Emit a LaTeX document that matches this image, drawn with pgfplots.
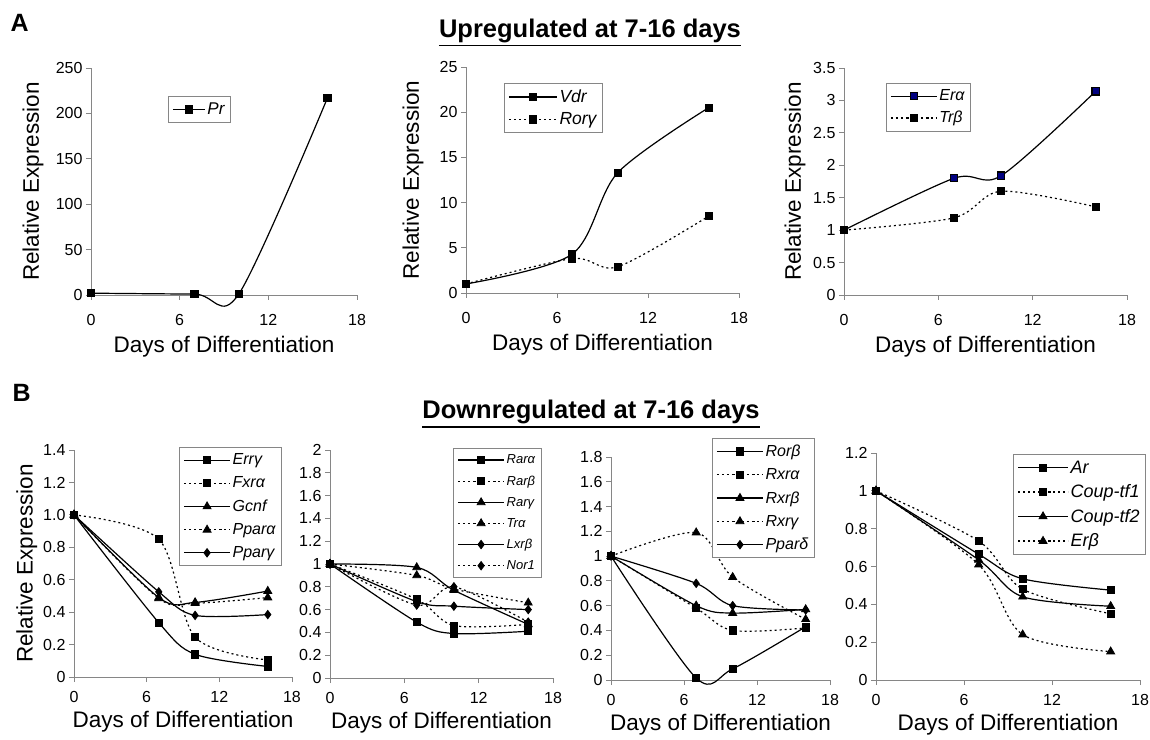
\documentclass[border=0pt]{standalone}
\usepackage{pgfplots}
\pgfplotsset{compat=1.18}
\usepackage{fontspec}
\setmainfont{Liberation Sans}
\definecolor{axgray}{RGB}{134,134,134}
\definecolor{navyfill}{RGB}{0,0,128}
\pgfplotsset{
  base/.style={scale only axis, anchor=south west, clip=false,
    axis x line*=bottom, axis y line*=left,
    axis line style={draw=axgray, line width=0.9pt},
    xmin=0, xmax=18, xtick={0,6,12,18},
    tick style={draw=axgray, line width=0.9pt}, tick align=outside, major tick length=5pt,
    /pgf/number format/assume math mode=true,
    ticklabel style={font=\fontsize{16}{19}\selectfont},
    label style={font=\fontsize{22.5}{26}\selectfont},
    xlabel={Days of Differentiation},
    legend cell align=left,
    legend style={draw=axgray, line width=0.8pt, fill=white, anchor=north west,
      font=\fontsize{16}{19}\selectfont\itshape, row sep=6.5pt, inner xsep=4pt, inner ysep=4.5pt},
    legend image code/.code={\draw[mark repeat=2,mark phase=2,#1] plot coordinates {(0pt,0pt) (23pt,0pt) (46pt,0pt)};},
  },
  rowA/.style={xticklabel style={yshift=-11pt}},
  rowB/.style={xticklabel style={yshift=-6pt}},
  sline/.style={black, line width=1.2pt, smooth, tension=0.5, mark options={solid, fill=black, line width=0.8pt}},
  dline/.style={black, line width=1.2pt, smooth, tension=0.5, dash pattern=on 2pt off 3pt, mark options={solid, fill=black, line width=0.8pt}},
  msq/.style={mark=square*, mark size=3.6pt},
  mtri/.style={mark=triangle*, mark size=4.6pt},
  mdia/.style={mark=diamond*, mark size=4.2pt},
}
\begin{document}
\begin{tikzpicture}[x=1pt,y=1pt]
% titles
\node[anchor=base west, font=\fontsize{25}{30}\selectfont\bfseries] at (7,707) {A};
\node[anchor=base west, font=\fontsize{25}{30}\selectfont\bfseries] at (9,337) {B};
\node[anchor=base, inner sep=0pt, font=\fontsize{25.5}{30}\selectfont\bfseries] (t1) at (590,701) {Upregulated at 7-16 days};
\draw[line width=1.8pt] ([yshift=-2pt]t1.south west) -- ([yshift=-2pt]t1.south east);
\node[anchor=base, inner sep=0pt, font=\fontsize{25.5}{30}\selectfont\bfseries] (t2) at (591,320) {Downregulated at 7-16 days};
\draw[line width=1.8pt] ([yshift=-2pt]t2.south west) -- ([yshift=-2pt]t2.south east);

% ---------- A1
\begin{axis}[base, rowA, at={(91pt,444pt)}, width=266pt, height=227pt,
  ymin=0, ymax=250, ytick={0,50,100,150,200,250},
  ylabel={Relative Expression},
  xlabel style={at={(axis description cs:0.5,-0.229)}, anchor=center},
  ylabel style={at={(axis description cs:-0.218,0.5)}, anchor=center},
  legend style={at={(0.289,0.877)}, font=\fontsize{17}{20}\selectfont\itshape},
  legend image code/.code={\draw[mark repeat=2,mark phase=2,#1] plot coordinates {(0pt,0pt) (16pt,0pt) (32pt,0pt)};}]
\addplot[sline, msq] coordinates {(0,2) (7,1) (10,1) (16,217)};
\addlegendentry{Pr}
\end{axis}

% ---------- A2
\begin{axis}[base, rowA, at={(466pt,446pt)}, width=273pt, height=226pt,
  ymin=0, ymax=25, ytick={0,5,10,15,20,25},
  ylabel={Relative Expression},
  xlabel style={at={(axis description cs:0.5,-0.23)}, anchor=center},
  ylabel style={at={(axis description cs:-0.194,0.5)}, anchor=center},
  legend style={at={(0.139,0.929)}, font=\fontsize{17.5}{20}\selectfont\itshape, row sep=4.5pt},
  legend image code/.code={\draw[mark repeat=2,mark phase=2,#1] plot coordinates {(0pt,0pt) (24pt,0pt) (48pt,0pt)};}]
\addplot[sline, msq] coordinates {(0,1) (7,4.3) (10,13.3) (16,20.5)};
\addlegendentry{Vdr}
\addplot[dline, msq] coordinates {(0,1) (7,3.8) (10,2.9) (16,8.5)};
\addlegendentry{Rorγ}
\end{axis}

% ---------- A3
\begin{axis}[base, rowA, at={(844pt,444pt)}, width=283pt, height=227pt,
  ymin=0, ymax=3.5, ytick={0,0.5,1,1.5,2,2.5,3,3.5},
  ylabel={Relative Expression},
  xlabel style={at={(axis description cs:0.5,-0.229)}, anchor=center},
  ylabel style={at={(axis description cs:-0.173,0.5)}, anchor=center},
  legend style={at={(0.148,0.934)}, row sep=5pt}]
\addplot[sline, msq, mark options={solid, fill=navyfill, draw=black}] coordinates {(0,1) (7,1.8) (10,1.84) (16,3.14)};
\addlegendentry{Erα}
\addplot[dline, msq] coordinates {(0,1) (7,1.19) (10,1.6) (16,1.36)};
\addlegendentry{Trβ}
\end{axis}

% ---------- B1
\begin{axis}[base, rowB, at={(74pt,62pt)}, width=218pt, height=227pt,
  ymin=0, ymax=1.4, ytick={0,0.2,0.4,0.6,0.8,1,1.2,1.4},
  yticklabels={0,0.2,0.4,0.6,0.8,1.0,1.2,1.4},
  ylabel={Relative Expression},
  xlabel style={at={(axis description cs:0.5,-0.198)}, anchor=center},
  ylabel style={at={(axis description cs:-0.216,0.5)}, anchor=center},
  legend style={at={(0.482,1.013)}}]
\addplot[sline, msq] coordinates {(0,1) (7,0.335) (10,0.14) (16,0.065)};
\addlegendentry{Errγ}
\addplot[dline, msq] coordinates {(0,1) (7,0.85) (10,0.245) (16,0.105)};
\addlegendentry{Fxrα}
\addplot[sline, mtri] coordinates {(0,1) (7,0.49) (10,0.46) (16,0.53)};
\addlegendentry{Gcnf}
\addplot[dline, mtri] coordinates {(0,1) (7,0.485) (10,0.455) (16,0.49)};
\addlegendentry{Pparα}
\addplot[sline, mdia] coordinates {(0,1) (7,0.525) (10,0.38) (16,0.385)};
\addlegendentry{Pparγ}
\end{axis}

% ---------- B2
\begin{axis}[base, rowB, at={(330pt,61pt)}, width=223pt, height=228pt,
  ymin=0, ymax=2, ytick={0,0.2,0.4,0.6,0.8,1,1.2,1.4,1.6,1.8,2},
  xlabel style={at={(axis description cs:0.5,-0.197)}, anchor=center},
  legend style={at={(0.552,1.009)}, font=\fontsize{13}{15}\selectfont\itshape, row sep=6.5pt}]
\addplot[sline, msq] coordinates {(0,1) (7,0.49) (10,0.39) (16,0.41)};
\addlegendentry{Rarα}
\addplot[dline, msq] coordinates {(0,1) (7,0.69) (10,0.46) (16,0.47)};
\addlegendentry{Rarβ}
\addplot[sline, mtri] coordinates {(0,1) (7,0.97) (10,0.77) (16,0.47)};
\addlegendentry{Rarγ}
\addplot[dline, mtri] coordinates {(0,1) (7,0.9) (10,0.78) (16,0.66)};
\addlegendentry{Trα}
\addplot[sline, mdia] coordinates {(0,1) (7,0.67) (10,0.63) (16,0.6)};
\addlegendentry{Lxrβ}
\addplot[dline, mdia] coordinates {(0,1) (7,0.64) (10,0.8) (16,0.49)};
\addlegendentry{Nor1}
\end{axis}

% ---------- B3
\begin{axis}[base, rowB, at={(611pt,59pt)}, width=219pt, height=223pt,
  ymin=0, ymax=1.8, ytick={0,0.2,0.4,0.6,0.8,1,1.2,1.4,1.6,1.8},
  xlabel style={at={(axis description cs:0.5,-0.2)}, anchor=center},
  legend style={at={(0.461,1.085)}}]
\addplot[sline, msq] coordinates {(0,1) (7,0.016) (10,0.09) (16,0.43)};
\addlegendentry{Rorβ}
\addplot[dline, msq] coordinates {(0,1) (7,0.58) (10,0.4) (16,0.42)};
\addlegendentry{Rxrα}
\addplot[sline, mtri] coordinates {(0,1) (7,0.6) (10,0.54) (16,0.57)};
\addlegendentry{Rxrβ}
\addplot[dline, mtri] coordinates {(0,1) (7,1.19) (10,0.83) (16,0.49)};
\addlegendentry{Rxrγ}
\addplot[sline, mdia] coordinates {(0,1) (7,0.78) (10,0.6) (16,0.565)};
\addlegendentry{Pparδ}
\end{axis}

% ---------- B4
\begin{axis}[base, rowB, at={(876pt,59pt)}, width=264pt, height=227pt,
  ymin=0, ymax=1.2, ytick={0,0.2,0.4,0.6,0.8,1,1.2},
  xlabel style={at={(axis description cs:0.5,-0.198)}, anchor=center},
  legend style={at={(0.519,0.996)}, font=\fontsize{18}{21}\selectfont\itshape, row sep=6pt},
  legend image code/.code={\draw[mark repeat=2,mark phase=2,#1] plot coordinates {(0pt,0pt) (25pt,0pt) (50pt,0pt)};}]
\addplot[sline, msq] coordinates {(0,1) (7,0.665) (10,0.535) (16,0.475)};
\addlegendentry{Ar}
\addplot[dline, msq] coordinates {(0,1) (7,0.735) (10,0.48) (16,0.35)};
\addlegendentry{Coup-tf1}
\addplot[sline, mtri] coordinates {(0,1) (7,0.635) (10,0.44) (16,0.39)};
\addlegendentry{Coup-tf2}
\addplot[dline, mtri] coordinates {(0,1) (7,0.61) (10,0.24) (16,0.15)};
\addlegendentry{Erβ}
\end{axis}
\pgfresetboundingbox
\path[use as bounding box] (0pt,0pt) rectangle (1150pt,739pt);
\end{tikzpicture}
\end{document}
